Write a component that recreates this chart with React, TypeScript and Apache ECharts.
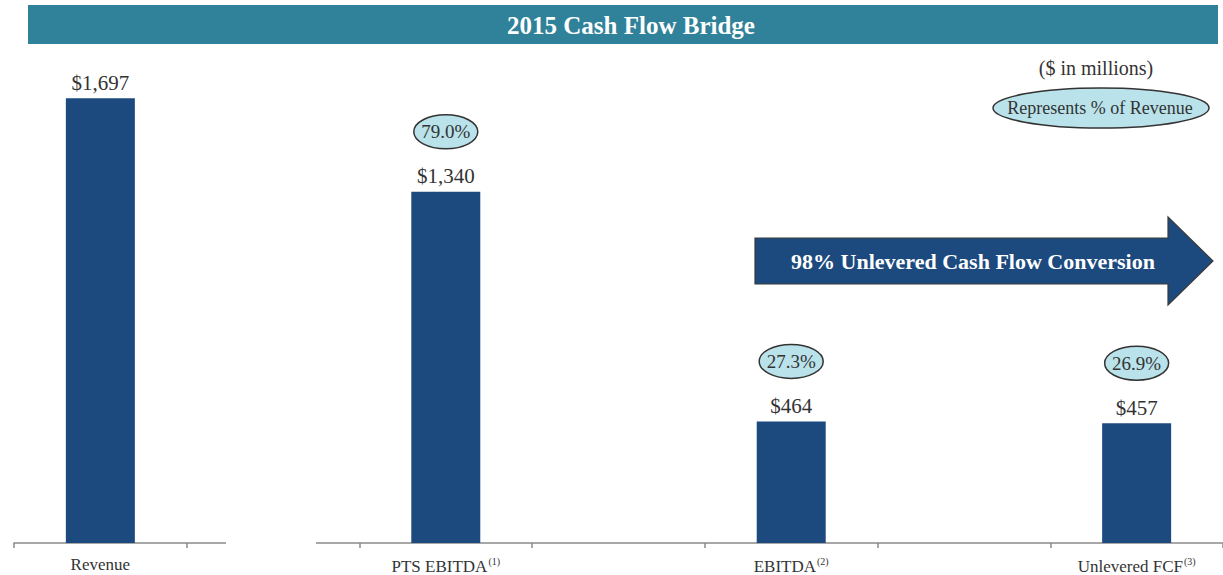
import React, { useEffect, useRef } from "react";
import * as echarts from "echarts";

const categories = ["Revenue", "", "PTS EBITDA", "", "EBITDA", "", "Unlevered FCF"];
const footnotes = ["", "", "(1)", "", "(2)", "", "(3)"];
const values: (number | string)[] = [1697, "-", 1340, "-", 464, "-", 457];
const pctIndex = [2, 4, 6];
const pctValues = [79.0, 27.3, 26.9];

const SERIF = "'Liberation Serif', 'DejaVu Serif', serif";
const BAR = "#1d4a7e";
const OVAL = "#b9e2ea";

export default function App() {
  const ref = useRef<HTMLDivElement>(null);
  useEffect(() => {
    const chart = echarts.init(ref.current!, null, { renderer: "svg" });
    const ovalData = pctIndex.map((ci, i) => [ci, values[ci] as number, pctValues[i]]);
    chart.setOption({
      animation: false,
      grid: { left: 14, right: 0, top: 45, bottom: 32, containLabel: false },
      xAxis: {
        type: "category",
        data: categories,
        boundaryGap: true,
        axisLine: { lineStyle: { color: "#8a8a8a", width: 1.5 } },
        axisTick: { show: true, length: 5, interval: 0, lineStyle: { color: "#8a8a8a", width: 1.5 } },
        axisLabel: {
          interval: 0,
          margin: 13,
          color: "#333",
          fontFamily: SERIF,
          fontSize: 17,
          formatter: (v: string, idx: number) =>
            footnotes[idx] ? `{a|${v}}{s|${footnotes[idx]}}` : `{a|${v}}`,
          rich: {
            a: { fontFamily: SERIF, fontSize: 17, color: "#333" },
            s: { fontFamily: SERIF, fontSize: 10, color: "#333", padding: [0, 0, 10, 1] },
          },
        },
      },
      yAxis: { type: "value", min: 0, max: 1900, show: false, splitLine: { show: false } },
      series: [
        {
          type: "bar",
          data: values,
          barWidth: 69,
          itemStyle: { color: BAR },
          label: {
            show: true,
            position: "top",
            distance: 5,
            color: "#333",
            fontFamily: SERIF,
            fontSize: 21,
            formatter: (p: any) => "$" + Number(p.value).toLocaleString("en-US"),
          },
        },
        {
          type: "custom",
          data: ovalData,
          z: 5,
          renderItem: (params: any, api: any) => {
            const p = api.coord([api.value(0), api.value(1)]);
            const cy = p[1] - 60;
            return {
              type: "group",
              children: [
                {
                  type: "ellipse",
                  shape: { cx: p[0], cy, rx: 32, ry: 17 },
                  style: { fill: OVAL, stroke: "#333", lineWidth: 1.5 },
                },
                {
                  type: "text",
                  style: {
                    text: Number(api.value(2)).toFixed(1) + "%",
                    x: p[0],
                    y: cy,
                    align: "center",
                    verticalAlign: "middle",
                    fill: "#333",
                    font: `19px ${SERIF}`,
                  },
                },
              ],
            };
          },
        },
      ],
      graphic: [
        {
          type: "rect",
          z: 100,
          shape: { x: 226, y: 538, width: 90, height: 12 },
          style: { fill: "#fff" },
        },
        {
          type: "rect",
          z: 100,
          shape: { x: 28, y: 5, width: 1190, height: 39 },
          style: { fill: "#2f8299" },
        },
        {
          type: "text",
          z: 101,
          style: {
            text: "2015 Cash Flow Bridge",
            x: 631,
            y: 25,
            align: "center",
            verticalAlign: "middle",
            fill: "#fff",
            font: `bold 25px ${SERIF}`,
          },
        },
        {
          type: "text",
          z: 101,
          style: {
            text: "($ in millions)",
            x: 1096,
            y: 68,
            align: "center",
            verticalAlign: "middle",
            fill: "#333",
            font: `20px ${SERIF}`,
          },
        },
        {
          type: "ellipse",
          z: 100,
          shape: { cx: 1101, cy: 108, rx: 108, ry: 20 },
          style: { fill: OVAL, stroke: "#333", lineWidth: 1.5 },
        },
        {
          type: "text",
          z: 101,
          style: {
            text: "Represents % of Revenue",
            x: 1100,
            y: 108,
            align: "center",
            verticalAlign: "middle",
            fill: "#333",
            font: `18px ${SERIF}`,
          },
        },
        {
          type: "polygon",
          z: 100,
          shape: {
            points: [
              [755, 238],
              [1168, 238],
              [1168, 217],
              [1213, 261],
              [1168, 305],
              [1168, 284],
              [755, 284],
            ],
          },
          style: { fill: BAR, stroke: "#3a3a3a", lineWidth: 1.2 },
        },
        {
          type: "text",
          z: 101,
          style: {
            text: "98% Unlevered Cash Flow Conversion",
            x: 973,
            y: 261,
            align: "center",
            verticalAlign: "middle",
            fill: "#fff",
            font: `bold 22px ${SERIF}`,
          },
        },
      ],
    });
    return () => chart.dispose();
  }, []);
  return (
    <div
      ref={ref}
      style={{ position: "absolute", left: 0, top: 0, width: 1223, height: 575, background: "#fff" }}
    />
  );
}
